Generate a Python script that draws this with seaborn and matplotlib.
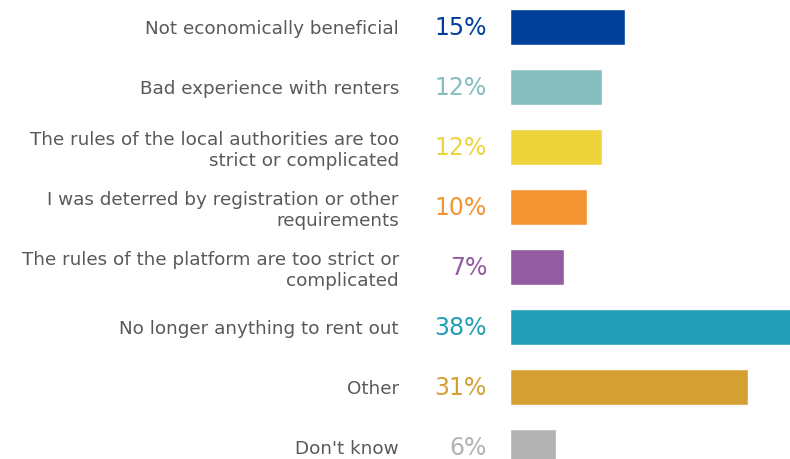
import matplotlib
matplotlib.use("Agg")
import matplotlib.pyplot as plt
import seaborn as sns
import pandas as pd

sns.set_theme(style="white")
plt.rcParams['font.family'] = ['DejaVu Sans']

categories = [
    "Not economically beneficial",
    "Bad experience with renters",
    "The rules of the local authorities are too\nstrict or complicated",
    "I was deterred by registration or other\nrequirements",
    "The rules of the platform are too strict or\ncomplicated",
    "No longer anything to rent out",
    "Other",
    "Don't know",
]
values = [15, 12, 12, 10, 7, 38, 31, 6]
colors = ["#00409A", "#86BDBE", "#EDD43A", "#F39433",
          "#935BA1", "#23A0B7", "#D5A033", "#B3B3B3"]

df = pd.DataFrame({"reason": categories, "pct": values})

fig = plt.figure(figsize=(7.9, 4.59), dpi=100)
ax = fig.add_axes([510 / 790, 0, 280 / 790, 1])

sns.barplot(data=df, x="pct", y="reason", hue="reason", palette=colors,
            orient="h", width=0.6, legend=False, ax=ax, saturation=1)

ax.set_xlim(0, 36.5)
ax.set_ylim(7.2, -0.45)
ax.set_xlabel("")
ax.set_ylabel("")
ax.set_xticks([])
sns.despine(ax=ax, left=True, bottom=True)

ax.tick_params(axis="y", length=0, pad=80, labelsize=13.2, labelcolor="#595959")
for lab in ax.get_yticklabels():
    lab.set_horizontalalignment("right")
    lab.set_linespacing(1.2)

for i, (v, c) in enumerate(zip(values, colors)):
    ax.annotate(f"{v}%", xy=(0, i), xytext=(-23, -1), textcoords="offset pixels",
                ha="right", va="center", fontsize=17, color=c)

fig.savefig("out.png", dpi=100)
